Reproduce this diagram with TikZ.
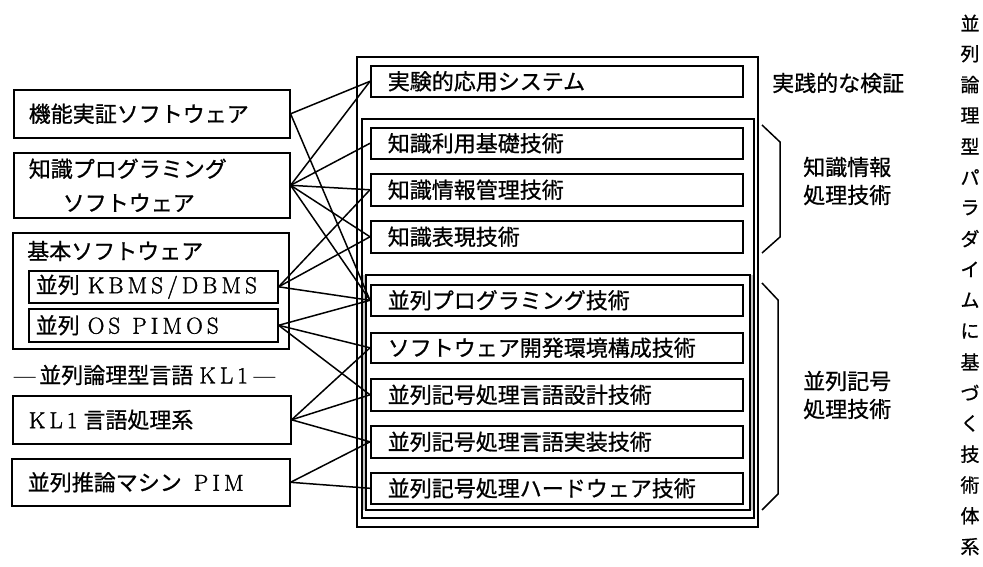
\documentclass[tikz,border=0pt]{standalone}
\usepackage{fontspec}
\newfontfamily\jpfam[FakeBold=0.8]{Noto Sans CJK JP}
\newfontfamily\latfam[LetterSpace=18,FakeBold=1.5]{Latin Modern Roman}
\newcommand\JPT{\jpfam\fontsize{22}{34}\selectfont}
\newcommand\JPR{\jpfam\fontsize{22}{28}\selectfont}
\newcommand\JPV{\jpfam\fontsize{19}{19}\selectfont}
\newcommand\LAT[1]{{\latfam\fontsize{23}{34}\selectfont #1}}
\begin{document}
\begin{tikzpicture}[x=1pt,y=-1pt,
  fr/.style={draw, line width=1.2pt},
  bx/.style={draw, line width=1.6pt, anchor=north west, inner ysep=0pt, align=left, font=\JPT, fill=white},
  conn/.style={line width=1.5pt},
  lbl/.style={inner sep=0pt, font=\JPT},
  brc/.style={line width=1.5pt}]
\useasboundingbox (0,0) rectangle (983,567);
% nested frames
\draw[fr] (357,57) rectangle (758,527);
\fill[gray!45] (362,275) rectangle (366,510);
\fill[gray!45] (750,275) rectangle (754,510);
\draw[fr] (362,119) rectangle (754,518);
\draw[fr] (366,275) rectangle (750,510);
% middle boxes
\node[bx, text width=338pt, inner xsep=17pt, minimum height=31pt] (M1) at (370,65) {実験的応用システム};
\node[bx, text width=338pt, inner xsep=17pt, minimum height=31pt] (M2) at (370,127) {知識利用基礎技術};
\node[bx, text width=338pt, inner xsep=17pt, minimum height=32pt] (M3) at (370,173) {知識情報管理技術};
\node[bx, text width=338pt, inner xsep=17pt, minimum height=32pt] (M4) at (370,220) {知識表現技術};
\node[bx, text width=338pt, inner xsep=17pt, minimum height=31pt] (M5) at (370,284) {並列プログラミング技術};
\node[bx, text width=338pt, inner xsep=17pt, minimum height=30pt] (M6) at (370,332) {ソフトウェア開発環境構成技術};
\node[bx, text width=338pt, inner xsep=17pt, minimum height=32pt] (M7) at (370,378) {並列記号処理言語設計技術};
\node[bx, text width=338pt, inner xsep=17pt, minimum height=32pt] (M8) at (370,425) {並列記号処理言語実装技術};
\node[bx, text width=338pt, inner xsep=17pt, minimum height=31pt] (M9) at (370,472) {並列記号処理ハードウェア技術};
% left boxes
\node[bx, text width=246pt, inner xsep=15pt, minimum height=48pt] (L1) at (13,89) {機能実証ソフトウェア};
\node[bx, text width=246pt, inner xsep=15pt, minimum height=65pt] (L2) at (13,152) {知識プログラミング\\\hspace*{34pt}ソフトウェア};
\node[draw, line width=1.6pt, anchor=north west, minimum width=276pt, minimum height=116pt, inner sep=0pt] (L3) at (12,232) {};
\node[lbl, anchor=west] (L3t) at (27,251) {基本ソフトウェア};
\node[bx, text width=235pt, inner xsep=7pt, minimum height=32pt] (KB) at (28,270) {並列\hspace{8pt}\LAT{KBMS/DBMS}};
\node[bx, text width=235pt, inner xsep=7pt, minimum height=33pt] (OS) at (28,308) {並列\hspace{8pt}\LAT{OS}\hspace{12pt}\LAT{PIMOS}};
\node[lbl, anchor=west] (KLt) at (14,375) {\LAT{—}\hspace{4pt}並列論理型言語\hspace{6pt}\LAT{KL1}\hspace{6pt}\LAT{—}};
\node[bx, text width=246pt, inner xsep=16pt, minimum height=48pt] (L4) at (12,395) {\LAT{KL1}\hspace{6pt}言語処理系};
\node[bx, text width=246pt, inner xsep=16pt, minimum height=47pt] (L5) at (11,458) {並列推論マシン\hspace{12pt}\LAT{PIM}};
% connectors
\foreach \a/\b in {L1/M1, L1/M5, L2/M1, L2/M2, L2/M3, L2/M4, L2/M5,
                   KB/M3, KB/M4, KB/M5, OS/M5, OS/M6, OS/M7,
                   L4/M6, L4/M7, L4/M8, L5/M8, L5/M9}
  \draw[conn] (\a.east) -- (\b.west);
% right labels and braces
\node[lbl, anchor=west] (R1) at (772,83) {実践的な検証};
\node[lbl, anchor=west, align=left, font=\JPR] (R2) at (803,181) {知識情報\\処理技術};
\node[lbl, anchor=west, align=left, font=\JPR] (R3) at (803,395) {並列記号\\処理技術};
\draw[brc] (762,125) -- (780,142) -- (780,237) -- (762,253);
\draw[brc] (762,283) -- (778,300) -- (778,494) -- (762,510);
% vertical title
\foreach \c [count=\i from 0] in {並,列,論,理,型,パ,ラ,ダ,イ,ム,に,基,づ,く,技,術,体,系}
  \node[lbl, font=\JPV] (v\i) at (970,{23+30.8*\i}) {\c};
\end{tikzpicture}
\end{document}
